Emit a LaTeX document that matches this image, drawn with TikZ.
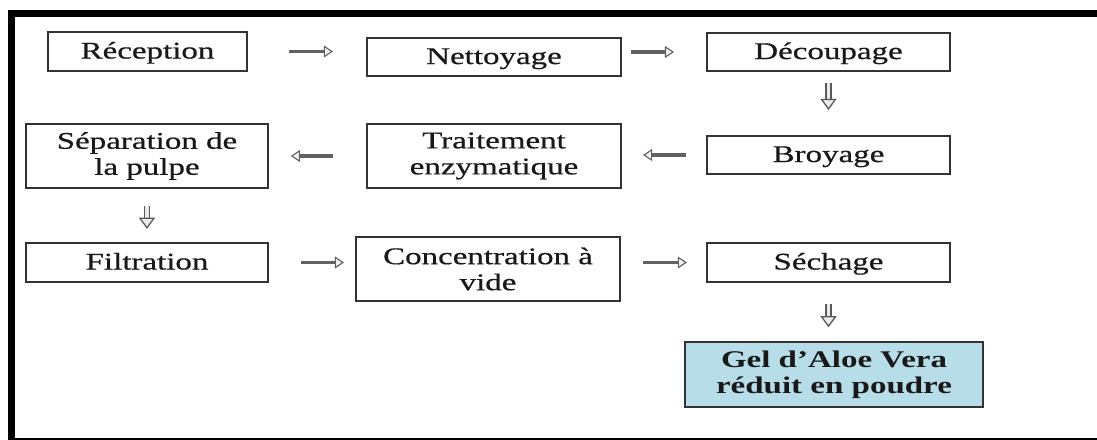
\documentclass[tikz,border=0pt]{standalone}
\usepackage{fontspec}
\setmainfont[FakeStretch=1.38, UprightFeatures={FakeBold=0.6}]{Liberation Serif}
\usetikzlibrary{arrows.meta, positioning}
\definecolor{gelblue}{RGB}{183,221,232}

\begin{document}
\begin{tikzpicture}[
    x=0.025cm, y=-0.025cm,
    stepbox/.style={rectangle, draw=black!80, line width=1.1pt, text=black!90, align=center, font=\fontsize{17}{18.5}\selectfont, inner sep=2pt},
    onebox/.style={stepbox, text height=12pt, text depth=2pt},
    endbox/.style={stepbox, fill=gelblue, font=\fontsize{17}{18.5}\selectfont\bfseries},
    harrow/.style={draw=black!62, line width=2.8pt, -{Triangle[length=6.5pt, width=8.5pt, fill=black!6, line width=0.8pt]}},
    varrow/.style={draw=black!65, double=black!8, double distance=2.8pt, line width=1pt, -{Triangle[length=8pt, width=11.5pt, fill=black!8, line width=0.9pt]}}
]

% page and frame
\clip (0,0) rectangle (1097,440);
\draw[line width=0.175cm] (11.5,13.5) rectangle (1110,441);

% first row
\node[onebox, minimum width=4.98cm, minimum height=0.98cm] (recep) at (147.5,51.5) {Réception};
\node[onebox, minimum width=6.35cm, minimum height=0.95cm] (nettoy) at (494,57) {Nettoyage};
\node[onebox, minimum width=6.08cm, minimum height=0.95cm] (decoup) at (828.5,52) {Découpage};

% second row
\node[onebox, minimum width=6.08cm, minimum height=0.95cm] (broy) at (828.5,155) {Broyage};
\node[stepbox, minimum width=6.35cm, minimum height=1.6cm] (traite) at (494,156) {Traitement\\enzymatique};
\node[stepbox, minimum width=6.05cm, minimum height=1.6cm] (separ) at (147,156) {Séparation de\\la pulpe};

% third row
\node[onebox, minimum width=6.05cm, minimum height=0.98cm] (filtr) at (147,262.5) {Filtration};
\node[stepbox, minimum width=6.6cm, minimum height=1.6cm] (concen) at (488,269) {Concentration à\\vide};
\node[onebox, minimum width=6.08cm, minimum height=0.98cm] (sech) at (828.5,262.5) {Séchage};

% product
\node[endbox, minimum width=7.45cm, minimum height=1.62cm] (gel) at (834,374.5) {Gel d’Aloe Vera\\réduit en poudre};

% Arrows
\draw[harrow, shorten <=1.03cm, shorten >=0.83cm] (recep.east) -- (recep.east -| nettoy.west);
\draw[harrow, shorten <=0.23cm, shorten >=0.8cm] (decoup.west -| nettoy.east) -- (decoup.west);
\draw[varrow, shorten <=0.28cm, shorten >=0.63cm] (decoup.south) -- (broy.north);
\draw[harrow, shorten <=0.5cm, shorten >=0.53cm] (broy.west) -- (broy.west -| traite.east);
\draw[harrow, shorten <=0.83cm, shorten >=0.55cm] (traite.west) -- (traite.west -| separ.east);
\draw[varrow, shorten <=0.43cm, shorten >=0.33cm] (separ.south) -- (filtr.north);
\draw[harrow, shorten <=0.8cm, shorten >=0.28cm] (filtr.east) -- (filtr.east -| concen.west);
\draw[harrow, shorten <=0.55cm, shorten >=0.48cm] (sech.west -| concen.east) -- (sech.west);
\draw[varrow, shorten <=0.53cm, shorten >=0.35cm] (sech.south) -- (sech.south |- gel.north);

\end{tikzpicture}
\end{document}
